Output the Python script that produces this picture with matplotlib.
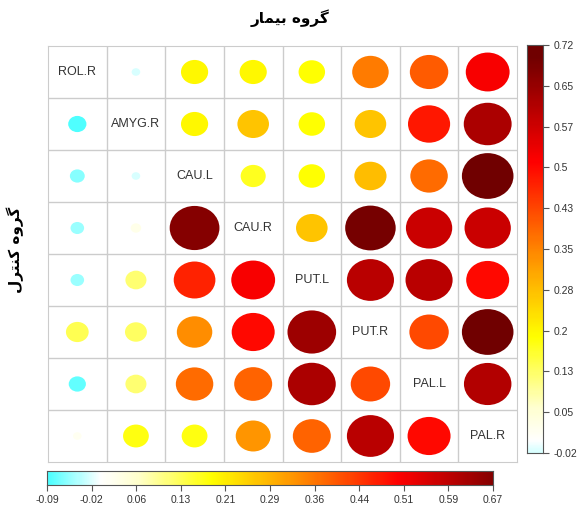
import matplotlib
matplotlib.use("Agg")
import matplotlib.pyplot as plt
import numpy as np
from matplotlib.colors import LinearSegmentedColormap, Normalize
from matplotlib.patches import Ellipse

labels = ["ROL.R", "AMYG.R", "CAU.L", "CAU.R", "PUT.L", "PUT.R", "PAL.L", "PAL.R"]

# upper triangle: patient group, row i, columns i+1..7
patient = [
    [-0.02, 0.20, 0.20, 0.19, 0.36, 0.40, 0.52],
    [0.20, 0.27, 0.19, 0.27, 0.48, 0.62],
    [0.17, 0.19, 0.28, 0.38, 0.72],
    [0.27, 0.69, 0.58, 0.58],
    [0.60, 0.60, 0.50],
    [0.42, 0.72],
    [0.61],
]

# lower triangle: control group, row i, columns 0..i-1
control = [
    [-0.09],
    [-0.06, -0.02],
    [-0.05, 0.03, 0.67],
    [-0.05, 0.12, 0.47, 0.52],
    [0.14, 0.13, 0.34, 0.50, 0.64],
    [-0.08, 0.12, 0.38, 0.39, 0.62, 0.42],
    [0.02, 0.18, 0.18, 0.33, 0.39, 0.60, 0.50],
]

patient_ticks = ["-0.02", "0.05", "0.13", "0.2", "0.28", "0.35", "0.43", "0.5", "0.57", "0.65", "0.72"]
control_ticks = ["-0.09", "-0.02", "0.06", "0.13", "0.21", "0.29", "0.36", "0.44", "0.51", "0.59", "0.67"]
patient_range = (-0.02, 0.72)
control_range = (-0.09, 0.67)

# Persian titles in presentation forms, visual order
title_top = "\uFEAD\uFE8E\uFEE4\uFBFF\uFE91 \uFEE9\uFEED\uFEAE\uFB94"
title_left = "\uFEDD\uFEAE\uFE98\uFEE8\uFB90 \uFEE9\uFEED\uFEAE\uFB94"

anchors = [(-0.09, "#4FFFFF"), (0.0, "#FFFFFF"), (0.06, "#FFFFD0"), (0.19, "#FFFF00"),
           (0.31, "#FFA500"), (0.51, "#FF0000"), (0.70, "#700000"), (0.72, "#700000")]
lo, hi = anchors[0][0], anchors[-1][0]
cmap = LinearSegmentedColormap.from_list(
    "corr", [((v - lo) / (hi - lo), c) for v, c in anchors])
norm = Normalize(lo, hi)

W, H = 581, 507
fig = plt.figure(figsize=(W / 100, H / 100), dpi=100)
ax = fig.add_axes([48 / W, 1 - 462 / H, (517 - 48) / W, (462 - 46) / H])
n = len(labels)
ax.set_xlim(0, n)
ax.set_ylim(n, 0)
ax.set_xticks([])
ax.set_yticks([])
for s in ax.spines.values():
    s.set_color("#CCCCCC")
for k in range(1, n):
    ax.axhline(k, color="#CCCCCC", lw=1)
    ax.axvline(k, color="#CCCCCC", lw=1)

vmax = 0.72


def dot(i, j, v):
    r = 0.44 * np.sqrt(abs(v) / vmax)
    ax.add_patch(Ellipse((j + 0.5, i + 0.5), 2 * r, 2 * r, facecolor=cmap(norm(v)),
                         edgecolor="none"))


for i, row in enumerate(patient):
    for k, v in enumerate(row):
        dot(i, i + 1 + k, v)
for i, row in enumerate(control):
    for j, v in enumerate(row):
        dot(i + 1, j, v)
for i, lab in enumerate(labels):
    ax.text(i + 0.5, i + 0.5, lab, ha="center", va="center", fontsize=9,
            family="Liberation Sans", color="#333333")


def colorbar(rect, rng, ticks, vertical):
    cax = fig.add_axes(rect)
    grad = np.linspace(rng[0], rng[1], 256)
    if vertical:
        cax.imshow(grad[:, None], cmap=cmap, norm=norm, aspect="auto", origin="lower",
                   extent=[0, 1, rng[0], rng[1]])
        cax.set_xticks([])
        cax.yaxis.tick_right()
        cax.set_yticks(np.linspace(rng[0], rng[1], len(ticks)))
        cax.set_yticklabels(ticks)
    else:
        cax.imshow(grad[None, :], cmap=cmap, norm=norm, aspect="auto",
                   extent=[rng[0], rng[1], 0, 1])
        cax.set_yticks([])
        cax.set_xticks(np.linspace(rng[0], rng[1], len(ticks)))
        cax.set_xticklabels(ticks)
    cax.tick_params(labelsize=7.5, length=4, color="#555555", labelcolor="#333333")
    for lab in cax.get_xticklabels() + cax.get_yticklabels():
        lab.set_family("Liberation Sans")
    for s in cax.spines.values():
        s.set_color("#555555")


colorbar([527 / W, 1 - 453 / H, 16 / W, (453 - 45) / H], patient_range, patient_ticks, True)
colorbar([47 / W, 1 - 485 / H, (493 - 47) / W, 14 / H], control_range, control_ticks, False)

fig.text(290 / W, 1 - 18 / H, title_top, ha="center", va="center", fontsize=11,
         fontweight="bold", family="DejaVu Sans")
fig.text(15 / W, 1 - 250 / H, title_left, ha="center", va="center", fontsize=11,
         fontweight="bold", family="DejaVu Sans", rotation=90)

fig.savefig("out.png", dpi=100)
